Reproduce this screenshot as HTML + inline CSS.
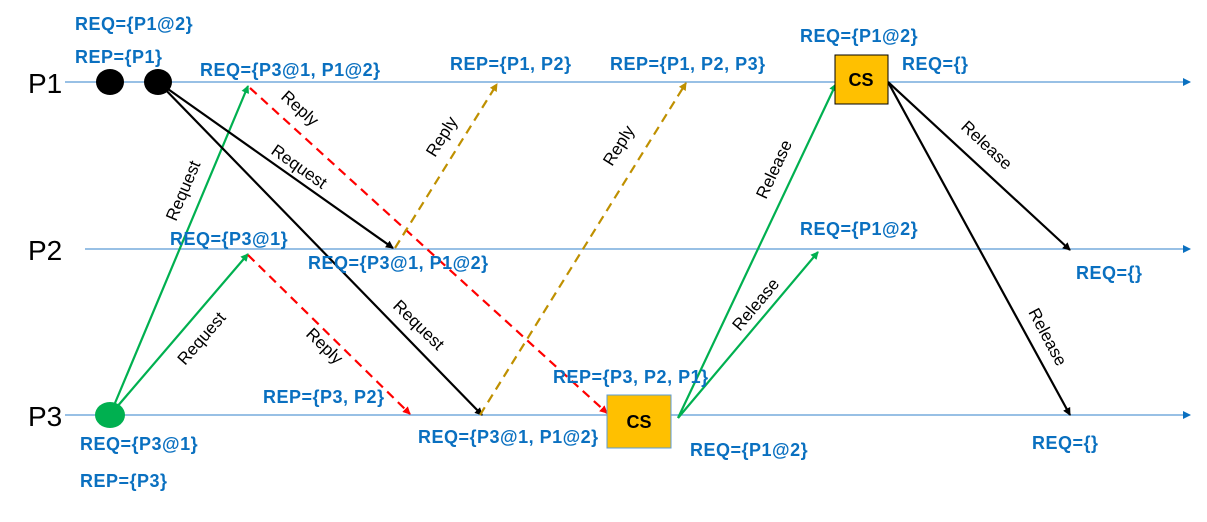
<!DOCTYPE html>
<html><head><meta charset="utf-8"><style>
html,body{margin:0;padding:0;background:#fff}
svg text{font-family:"Liberation Sans",sans-serif}
.b{fill:#0a70c0;font-weight:bold;font-size:18px;letter-spacing:0.5px}
.l{fill:#000;font-size:17px}
</style></head><body>
<svg width="1207" height="517" viewBox="0 0 1207 517" xmlns="http://www.w3.org/2000/svg">
<defs>
<marker id="ab" markerWidth="8" markerHeight="8" refX="7" refY="4" orient="auto" markerUnits="userSpaceOnUse"><path d="M0,0L8,4L0,8z" fill="#000"/></marker>
<marker id="ag" markerWidth="8" markerHeight="8" refX="7" refY="4" orient="auto" markerUnits="userSpaceOnUse"><path d="M0,0L8,4L0,8z" fill="#00b050"/></marker>
<marker id="ar" markerWidth="8" markerHeight="8" refX="7" refY="4" orient="auto" markerUnits="userSpaceOnUse"><path d="M0,0L8,4L0,8z" fill="#ff0000"/></marker>
<marker id="ay" markerWidth="8" markerHeight="8" refX="7" refY="4" orient="auto" markerUnits="userSpaceOnUse"><path d="M0,0L8,4L0,8z" fill="#bf9000"/></marker>
<marker id="al" markerWidth="8" markerHeight="8" refX="7" refY="4" orient="auto" markerUnits="userSpaceOnUse"><path d="M0,0L8,4L0,8z" fill="#0a70c0"/></marker>
</defs>
<g stroke="#5b9bd5" stroke-width="1.2">
<line x1="65" y1="82" x2="1190" y2="82" marker-end="url(#al)"/>
<line x1="85" y1="249" x2="1190" y2="249" marker-end="url(#al)"/>
<line x1="65" y1="415" x2="1190" y2="415" marker-end="url(#al)"/>
</g>
<text x="28" y="93" font-size="28" fill="#000">P1</text>
<text x="28" y="260" font-size="28" fill="#000">P2</text>
<text x="28" y="426" font-size="28" fill="#000">P3</text>
<ellipse cx="110" cy="82" rx="14" ry="13" fill="#000"/>
<ellipse cx="158" cy="82" rx="14" ry="13" fill="#000"/>
<ellipse cx="110" cy="415" rx="15" ry="13" fill="#00b050"/>
<g stroke-width="2.2" fill="none">
<line x1="110" y1="415" x2="248" y2="86" stroke="#00b050" marker-end="url(#ag)"/>
<line x1="110" y1="415" x2="248" y2="254" stroke="#00b050" marker-end="url(#ag)"/>
<line x1="158" y1="82" x2="393" y2="248" stroke="#000" marker-end="url(#ab)"/>
<line x1="158" y1="82" x2="482" y2="415" stroke="#000" marker-end="url(#ab)"/>
<line x1="250" y1="88" x2="607" y2="413" stroke="#ff0000" stroke-dasharray="9,6" marker-end="url(#ar)"/>
<line x1="248" y1="255" x2="410" y2="414" stroke="#ff0000" stroke-dasharray="9,6" marker-end="url(#ar)"/>
<line x1="395" y1="248" x2="497" y2="84" stroke="#bf9000" stroke-dasharray="9,6" marker-end="url(#ay)"/>
<line x1="480" y1="415" x2="686" y2="83" stroke="#bf9000" stroke-dasharray="9,6" marker-end="url(#ay)"/>
<line x1="678" y1="418" x2="836" y2="84" stroke="#00b050" marker-end="url(#ag)"/>
<line x1="678" y1="418" x2="818" y2="252" stroke="#00b050" marker-end="url(#ag)"/>
<line x1="888" y1="82" x2="1070" y2="250" stroke="#000" marker-end="url(#ab)"/>
<line x1="888" y1="82" x2="1070" y2="415" stroke="#000" marker-end="url(#ab)"/>
</g>
<rect x="835" y="55" width="53" height="49" fill="#ffc000" stroke="#000" stroke-width="1"/>
<text x="861" y="86" text-anchor="middle" font-weight="bold" font-size="18" fill="#000">CS</text>
<rect x="607" y="395" width="64" height="53" fill="#ffc000" stroke="#5b9bd5" stroke-width="1"/>
<text x="639" y="428" text-anchor="middle" font-weight="bold" font-size="18" fill="#000">CS</text>
<text class="b" x="75" y="30">REQ={P1@2}</text>
<text class="b" x="75" y="63">REP={P1}</text>
<text class="b" x="200" y="76">REQ={P3@1, P1@2}</text>
<text class="b" x="450" y="70">REP={P1, P2}</text>
<text class="b" x="610" y="70">REP={P1, P2, P3}</text>
<text class="b" x="800" y="42">REQ={P1@2}</text>
<text class="b" x="902" y="70">REQ={}</text>
<text class="b" x="170" y="245">REQ={P3@1}</text>
<text class="b" x="308" y="269">REQ={P3@1, P1@2}</text>
<text class="b" x="800" y="235">REQ={P1@2}</text>
<text class="b" x="1076" y="279">REQ={}</text>
<text class="b" x="263" y="403">REP={P3, P2}</text>
<text class="b" x="553" y="383">REP={P3, P2, P1}</text>
<text class="b" x="80" y="450">REQ={P3@1}</text>
<text class="b" x="80" y="487">REP={P3}</text>
<text class="b" x="418" y="443">REQ={P3@1, P1@2}</text>
<text class="b" x="690" y="456">REQ={P1@2}</text>
<text class="b" x="1032" y="449">REQ={}</text>
<text class="l" transform="translate(176,222) rotate(-67)">Request</text>
<text class="l" transform="translate(185,366) rotate(-49)">Request</text>
<text class="l" transform="translate(270,153) rotate(35)">Request</text>
<text class="l" transform="translate(392,307) rotate(44)">Request</text>
<text class="l" transform="translate(280,98) rotate(42)">Reply</text>
<text class="l" transform="translate(305,335) rotate(44)">Reply</text>
<text class="l" transform="translate(435,158) rotate(-58)">Reply</text>
<text class="l" transform="translate(612,167) rotate(-58)">Reply</text>
<text class="l" transform="translate(766,200) rotate(-65)">Release</text>
<text class="l" transform="translate(740,332) rotate(-50)">Release</text>
<text class="l" transform="translate(960,128) rotate(43)">Release</text>
<text class="l" transform="translate(1028,312) rotate(62)">Release</text>
</svg>
</body></html>
